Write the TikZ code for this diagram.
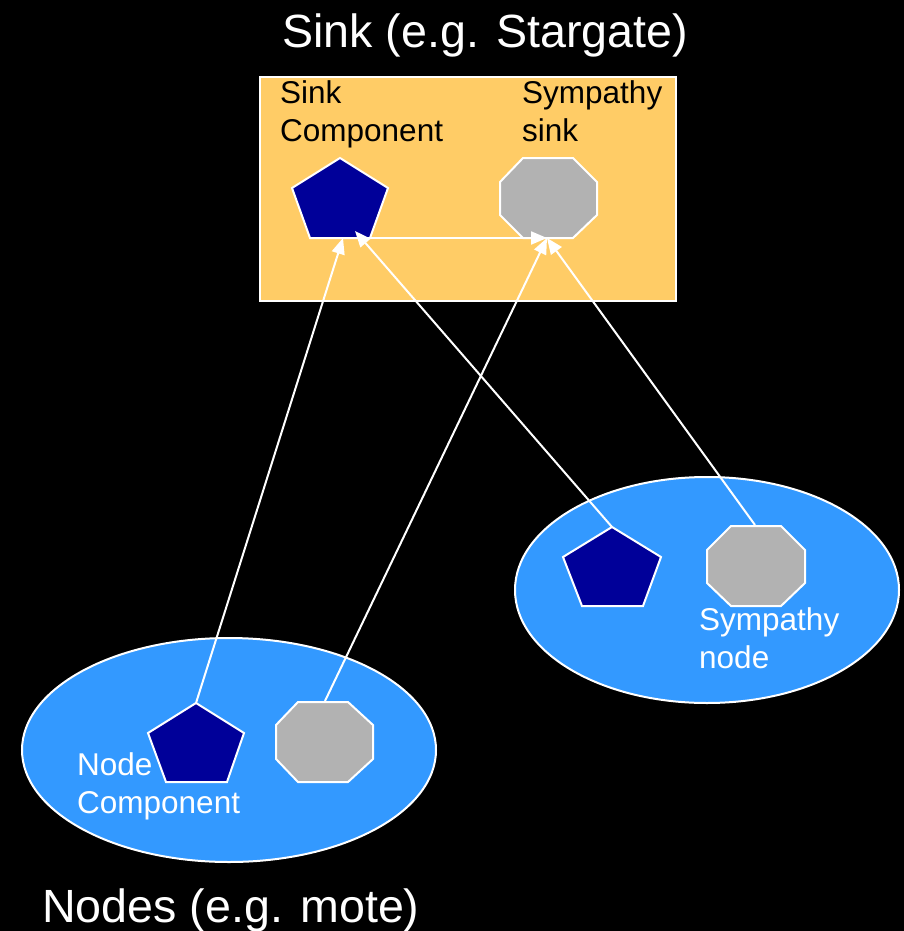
\documentclass[tikz,border=0pt]{standalone}
\usepackage{fontspec}
\setmainfont{Liberation Sans}
\usetikzlibrary{arrows.meta}
\definecolor{sinkbg}{HTML}{FFCC66}
\definecolor{nodebg}{HTML}{3399FF}
\definecolor{compblue}{HTML}{000099}
\definecolor{symgray}{HTML}{B2B2B2}
\begin{document}
\begin{tikzpicture}[x=1pt,y=-1pt,
  frame/.style={draw=white,line width=2pt},
  pent/.style={draw=white,line width=2pt,fill=compblue,line join=miter},
  octa/.style={draw=white,line width=2pt,fill=symgray},
  link/.style={draw=white,line width=2pt,-{Triangle[length=16pt,width=13pt]}},
  bigtxt/.style={text=white,font=\fontsize{46.6}{56}\selectfont,inner sep=0pt,anchor=base west},
  lbl/.style={font=\fontsize{31.5}{38}\selectfont,inner sep=0pt,anchor=base west,align=left}]
\useasboundingbox[fill=black] (0,0) rectangle (904,931);
% sink box
\path[frame,fill=sinkbg] (260,77) rectangle (676,301);
% node ellipses
\path[frame,fill=nodebg] (707,590) ellipse [x radius=192,y radius=113];
\path[frame,fill=nodebg] (229,750) ellipse [x radius=207,y radius=112];
% sink shapes
\path[pent] (340,158) -- (388,188) -- (370,238) -- (310,238) -- (292,188) -- cycle;
\path[octa] (523,158) -- (573,158) -- (597,182) -- (597,215) -- (573,238) -- (523,238) -- (500,215) -- (500,182) -- cycle;
% right node shapes
\path[pent] (612,527) -- (661,557) -- (643,606) -- (582,606) -- (563,557) -- cycle;
\path[octa] (731,526) -- (781,526) -- (805,550) -- (805,583) -- (781,606) -- (731,606) -- (707,583) -- (707,550) -- cycle;
% left node shapes
\path[pent] (196,703) -- (244,733) -- (227,782) -- (166,782) -- (148,733) -- cycle;
\path[octa] (298,702) -- (348,702) -- (373,725) -- (373,759) -- (348,782) -- (298,782) -- (276,759) -- (276,725) -- cycle;
% connector end points
\coordinate (sinkcomp) at (370,238);
\coordinate (sinkin1) at (343,238);
\coordinate (sinkin2) at (355,231);
\coordinate (sympsink) at (547,238);
\coordinate (ncomp) at (196,703);
\coordinate (nsymp) at (325,701);
\coordinate (rcomp) at (612,527);
\coordinate (rsymp) at (755,525);
% connectors
\draw[link] (sinkcomp) -- (sympsink);
\draw[link] (ncomp) -- (sinkin1);
\draw[link] (rcomp) -- (sinkin2);
\draw[link] (nsymp) -- (sympsink);
\draw[link] (rsymp) -- (sympsink);
% texts
\node[bigtxt] (ttop) at (282,48) {Sink (e.g. Stargate)};
\node[bigtxt] (tbot) at (42,922) {Nodes (e.g. mote)};
\node[lbl] (lsinkc) at (280,141) {Sink\\Component};
\node[lbl] (lsymps) at (522,141) {Sympathy\\sink};
\node[lbl,text=white] (lsympn) at (699,668) {Sympathy\\node};
\node[lbl,text=white] (lnodec) at (77,813) {Node\\Component};
\end{tikzpicture}
\end{document}
